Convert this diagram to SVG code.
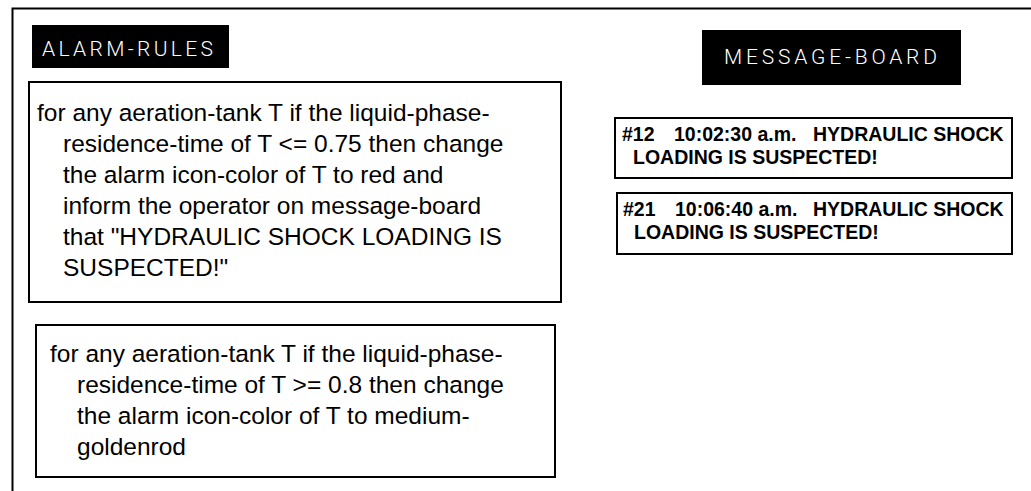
<svg xmlns="http://www.w3.org/2000/svg" width="1031" height="491" viewBox="0 0 1031 491">
  <style>
    .frame { fill: none; stroke: #000; stroke-width: 2; }
    .box { fill: #fff; stroke: #000; stroke-width: 2; }
    .tag { fill: #000; }
    .tagtext { font-family: Roboto, "Liberation Sans", sans-serif; font-weight: 300; font-size: 21px; fill: #fff; }
    .rule { font-family: "Liberation Sans", Arial, sans-serif; font-size: 24.5px; fill: #000; }
    .msg { font-family: "Liberation Sans", Arial, sans-serif; font-weight: bold; font-size: 19.5px; fill: #000; }
  </style>
  <rect width="1031" height="491" fill="#fff"/>

  <!-- workspace frame, running off the right and bottom -->
  <path class="frame" d="M12.5 491 V8.5 H1031"/>

  <g id="alarm-rules-tag">
    <rect class="tag" x="32" y="25" width="197" height="43"/>
    <text class="tagtext" x="42" y="56" textLength="171" lengthAdjust="spacing">ALARM-RULES</text>
  </g>

  <g id="rule-1">
    <rect class="box" x="29" y="82" width="532" height="220"/>
    <text class="rule">
      <tspan x="37" y="121">for any aeration-tank T if the liquid-phase-</tspan>
      <tspan x="63" y="152">residence-time of T &lt;= 0.75 then change</tspan>
      <tspan x="63" y="183">the alarm icon-color of T to red and</tspan>
      <tspan x="63" y="214">inform the operator on message-board</tspan>
      <tspan x="63" y="245">that "HYDRAULIC SHOCK LOADING IS</tspan>
      <tspan x="63" y="276">SUSPECTED!"</tspan>
    </text>
  </g>

  <g id="rule-2">
    <rect class="box" x="36" y="325" width="519" height="152"/>
    <text class="rule">
      <tspan x="50" y="362">for any aeration-tank T if the liquid-phase-</tspan>
      <tspan x="77" y="393">residence-time of T &gt;= 0.8 then change</tspan>
      <tspan x="77" y="424">the alarm icon-color of T to medium-</tspan>
      <tspan x="77" y="455">goldenrod</tspan>
    </text>
  </g>

  <g id="message-board-tag">
    <rect class="tag" x="702" y="30" width="259" height="55"/>
    <text class="tagtext" x="724" y="64" textLength="213" lengthAdjust="spacing">MESSAGE-BOARD</text>
  </g>

  <g id="message-12">
    <rect class="box" x="615" y="118" width="397" height="60"/>
    <text class="msg">
      <tspan x="622" y="141">#12</tspan>
      <tspan x="674" y="141">10:02:30 a.m.</tspan>
      <tspan x="813" y="141">HYDRAULIC SHOCK</tspan>
      <tspan x="633" y="164">LOADING IS SUSPECTED!</tspan>
    </text>
  </g>

  <g id="message-21">
    <rect class="box" x="617" y="193" width="395" height="61"/>
    <text class="msg">
      <tspan x="623" y="216">#21</tspan>
      <tspan x="675" y="216">10:06:40 a.m.</tspan>
      <tspan x="813" y="216">HYDRAULIC SHOCK</tspan>
      <tspan x="634" y="239">LOADING IS SUSPECTED!</tspan>
    </text>
  </g>

  <g id="connectors"/>
</svg>
